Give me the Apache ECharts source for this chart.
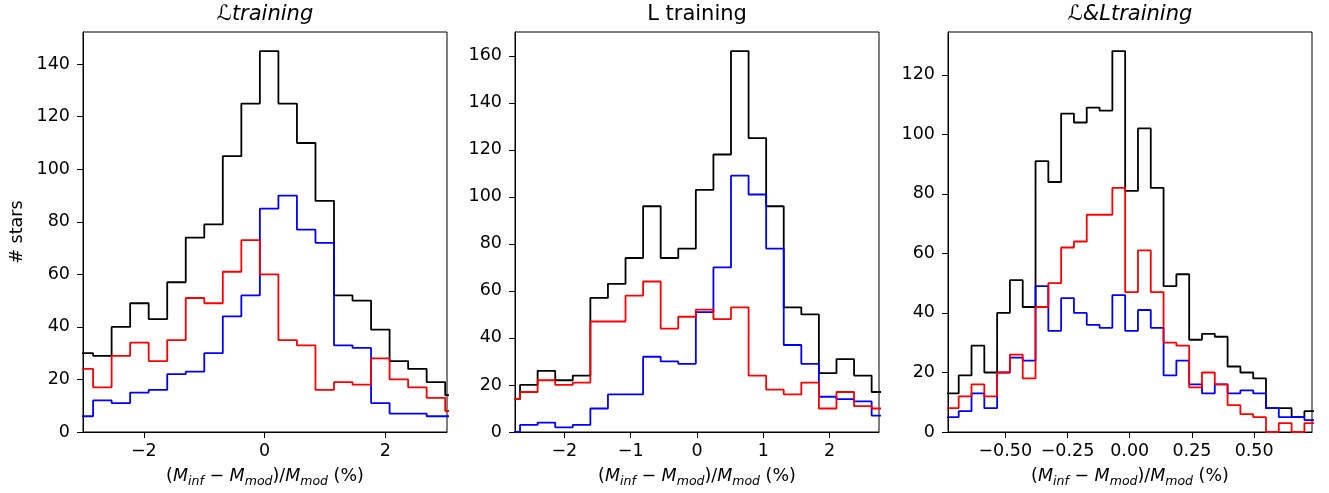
<!DOCTYPE html>
<html>
<head>
<meta charset="utf-8">
<script src="https://cdn.jsdelivr.net/npm/echarts@6.0.0/dist/echarts.min.js"></script>
<style>
  html, body { margin: 0; padding: 0; background: #fff; }
  #chart { width: 1329px; height: 493px; }
</style>
</head>
<body>
<div id="chart"></div>
<script>
// Histograms of the relative mass error for three training sets.
// Each panel: all stars (black), split into two sub-samples (blue, red).

const titles = ['ℒtraining', 'L training', 'ℒ&Ltraining'];
const titleItalic = [true, false, true];

// Bin layout per panel: first bin edge and bin width (in %)
const binStart = [-3.1468, -2.933, -0.7384];
const binWidth = [0.30684, 0.26505, 0.05144];

// Panel 1 counts
const allL   = [30, 29, 40, 49, 43, 57, 74, 79, 105, 125, 145, 125, 110, 88, 52, 50, 39, 27, 24, 19, 14];
const redL   = [24, 17, 29, 34, 27, 35, 51, 49, 61, 73, 60, 35, 33, 16, 19, 18, 28, 20, 17, 13, 8];
const blueL  = [6, 12, 11, 15, 16, 22, 23, 30, 44, 52, 85, 90, 77, 72, 33, 32, 11, 7, 7, 6, 6];

// Panel 2 counts
const allLum  = [14, 20, 26, 22, 24, 57, 63, 74, 96, 74, 78, 103, 118, 162, 125, 96, 53, 50, 25, 31, 24, 17];
const redLum  = [14, 17, 22, 20, 21, 47, 47, 58, 64, 44, 49, 52, 48, 53, 24, 18, 16, 21, 10, 17, 11, 10];
const blueLum = [0, 3, 4, 2, 3, 10, 16, 16, 32, 30, 29, 51, 70, 109, 101, 78, 37, 29, 15, 14, 13, 7];

// Panel 3 counts
const allBoth  = [13, 19, 29, 20, 40, 51, 42, 91, 84, 107, 104, 109, 108, 128, 81, 102, 82, 49, 53, 31, 33, 32, 22, 20, 18, 8, 8, 5, 7];
const redBoth  = [8, 12, 16, 12, 20, 26, 18, 42, 50, 62, 64, 73, 73, 82, 47, 61, 47, 30, 29, 15, 20, 16, 9, 6, 5, 0, 3, 0, 3];
const blueBoth = [5, 7, 13, 8, 20, 25, 24, 49, 34, 45, 40, 36, 35, 46, 34, 41, 35, 19, 24, 16, 13, 16, 13, 14, 13, 8, 5, 5, 4];

// Axis ranges and tick labels
const xRange = [[-3.007, 3.02], [-2.744, 2.744], [-0.730, 0.7324]];
const yMax = [152.25, 170.1, 134.4];
const xTicks = [[-2, 0, 2], [-2, -1, 0, 1, 2], [-0.5, -0.25, 0, 0.25, 0.5]];
const xDecimals = [0, 0, 2];
const yTicks = [
  [0, 20, 40, 60, 80, 100, 120, 140],
  [0, 20, 40, 60, 80, 100, 120, 140, 160],
  [0, 20, 40, 60, 80, 100, 120]
];

const panels = [
  { all: allL, red: redL, blue: blueL },
  { all: allLum, red: redLum, blue: blueLum },
  { all: allBoth, red: redBoth, blue: blueBoth }
];

const FONT = 'DejaVu Sans';
const gridLeft = [83, 515, 948];
const gridWidth = 364;
const gridTop = 32;
const gridHeight = 400;

// Outline of a step histogram: [left edge, count] per bin, closed to zero at both ends
function stepOutline(start, width, counts) {
  const pts = [[start, 0]];
  counts.forEach((c, i) => pts.push([start + i * width, c]));
  const end = start + counts.length * width;
  pts.push([end, counts[counts.length - 1]]);
  pts.push([end, 0]);
  return pts;
}

function fmt(v, d) {
  const s = Math.abs(v).toFixed(d);
  return (v < 0 ? '\u2212' : '') + s;
}

const xName = '{p|(}{i|M}{s|inf}{p| \u2212 }{i|M}{s|mod}{p|)/}{i|M}{s|mod}{p| (%)}';
const xNameRich = {
  p: { fontFamily: FONT, fontSize: 17.5, color: '#000', verticalAlign: 'top' },
  i: { fontFamily: FONT, fontSize: 17.5, fontStyle: 'italic', color: '#000', verticalAlign: 'top' },
  s: { fontFamily: FONT, fontSize: 12.5, fontStyle: 'italic', color: '#000', verticalAlign: 'top', padding: [8, 0, 0, 0] }
};

const grid = [], xAxis = [], yAxis = [], series = [], title = [];

panels.forEach((p, g) => {
  grid.push({
    left: gridLeft[g], top: gridTop, width: gridWidth, height: gridHeight,
    show: true, borderColor: '#000', borderWidth: 1, backgroundColor: '#fff',
    containLabel: false, outerBoundsMode: 'none'
  });
  title.push({
    text: titles[g],
    left: gridLeft[g] + gridWidth / 2,
    top: 4,
    padding: 0,
    textAlign: 'center',
    textStyle: {
      fontFamily: FONT, fontSize: 21, fontWeight: 'normal', color: '#000',
      fontStyle: titleItalic[g] ? 'italic' : 'normal'
    }
  });
  xAxis.push({
    type: 'value', gridIndex: g, min: xRange[g][0], max: xRange[g][1],
    axisLine: { show: true, onZero: false, lineStyle: { color: '#000', width: 1 } },
    axisTick: { show: true, length: 6, lineStyle: { color: '#000', width: 1 }, customValues: xTicks[g] },
    axisLabel: {
      customValues: xTicks[g], margin: 10, fontFamily: FONT, fontSize: 17.5, color: '#000',
      formatter: v => fmt(v, xDecimals[g])
    },
    splitLine: { show: false },
    name: xName, nameLocation: 'middle', nameGap: 35,
    nameTextStyle: { rich: xNameRich }
  });
  const y = {
    type: 'value', gridIndex: g, min: 0, max: yMax[g],
    axisLine: { show: true, onZero: false, lineStyle: { color: '#000', width: 1 } },
    axisTick: { show: true, length: 6, lineStyle: { color: '#000', width: 1 }, customValues: yTicks[g] },
    axisLabel: {
      customValues: yTicks[g], margin: 13, fontFamily: FONT, fontSize: 17.5, color: '#000',
      formatter: v => String(v)
    },
    splitLine: { show: false }
  };
  if (g === 0) {
    y.name = '# stars';
    y.nameLocation = 'middle';
    y.nameGap = 57;
    y.nameTextStyle = { fontFamily: FONT, fontSize: 17.5, color: '#000' };
  }
  yAxis.push(y);

  const layers = [[p.all, '#000000'], [p.blue, '#0000ff'], [p.red, '#ff0000']];
  layers.forEach(([counts, color], k) => {
    series.push({
      type: 'line', xAxisIndex: g, yAxisIndex: g,
      step: 'end', symbol: 'none', showSymbol: false, clip: true,
      data: stepOutline(binStart[g], binWidth[g], counts),
      lineStyle: { color: color, width: 1.8 },
      itemStyle: { color: color },
      z: 2 + k, silent: true
    });
  });
});

const chart = echarts.init(document.getElementById('chart'), null, { renderer: 'canvas' });
chart.setOption({
  backgroundColor: '#fff',
  animation: false,
  title: title,
  grid: grid,
  xAxis: xAxis,
  yAxis: yAxis,
  series: series
});
</script>
</body>
</html>
